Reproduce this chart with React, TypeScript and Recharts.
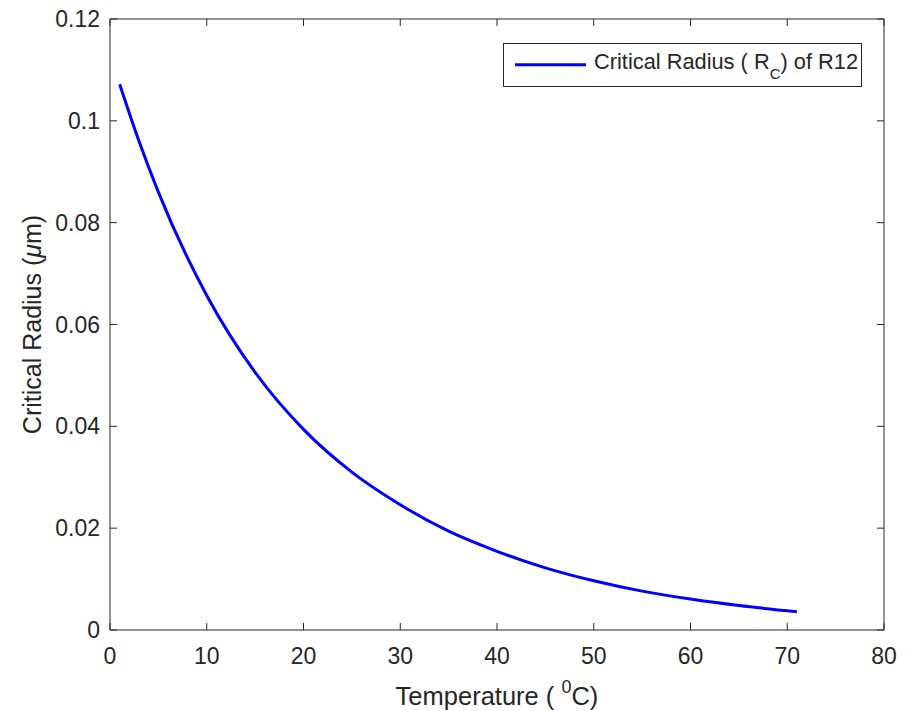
import React from 'react';
import { LineChart, Line, XAxis, YAxis, Legend } from 'recharts';

// Temperature (°C) and critical radius (µm)
const temperature = [1, 3, 5, 10, 15, 20, 25, 30, 35, 40, 45, 50, 55, 60, 65, 71];
const criticalRadius = [
  0.1072, 0.096, 0.086, 0.0657, 0.0506, 0.0394, 0.031, 0.0246, 0.0194, 0.01545,
  0.0122, 0.00966, 0.00763, 0.00607, 0.0048, 0.0036,
];
const xTicks = [0, 10, 20, 30, 40, 50, 60, 70, 80];
const yTicks = [0, 0.02, 0.04, 0.06, 0.08, 0.1, 0.12];
const yTickLabels = ['0', '0.02', '0.04', '0.06', '0.08', '0.1', '0.12'];

const data = temperature.map((t, i) => ({ t, r: criticalRadius[i] }));

const FONT = '"Liberation Sans", Arial, Helvetica, sans-serif';
const INK = '#262626';
const BLUE = '#0000ff';
const TICK_LEN = 7;

const BottomTick = (p: any) => (
  <g>
    <line x1={p.x} x2={p.x} y1={p.y} y2={p.y - TICK_LEN} stroke={INK} strokeWidth={1} />
    <text x={p.x} y={p.y + 18} dy="0.71em" textAnchor="middle" fontSize={23} fontFamily={FONT} fill={INK}>
      {String(p.payload.value)}
    </text>
  </g>
);

const LeftTick = (p: any) => {
  const v = p.payload.value;
  const label = yTickLabels[yTicks.indexOf(v)] ?? String(v);
  return (
    <g>
      <line x1={p.x} x2={p.x + TICK_LEN} y1={p.y} y2={p.y} stroke={INK} strokeWidth={1} />
      <text x={p.x - 10} y={p.y} dy="0.355em" textAnchor="end" fontSize={23} fontFamily={FONT} fill={INK}>
        {label}
      </text>
    </g>
  );
};

const TopTick = (p: any) => (
  <line x1={p.x} x2={p.x} y1={p.y} y2={p.y + TICK_LEN} stroke={INK} strokeWidth={1} />
);

const RightTick = (p: any) => (
  <line x1={p.x} x2={p.x - TICK_LEN} y1={p.y} y2={p.y} stroke={INK} strokeWidth={1} />
);

const XTitle = (props: any) => {
  const vb = props.viewBox || {};
  const cx = vb.x + vb.width / 2;
  const y = vb.y + 74.5;
  return (
    <text x={cx} y={y} textAnchor="middle" fontSize={25.5} fontFamily={FONT} fill={INK}>
      Temperature (
      <tspan> </tspan>
      <tspan fontSize={18} dy={-12}>0</tspan>
      <tspan dy={12}>C)</tspan>
    </text>
  );
};

const YTitle = (props: any) => {
  const vb = props.viewBox || {};
  const x = vb.x + 41;
  const cy = vb.y + vb.height / 2;
  return (
    <text
      x={x}
      y={cy}
      textAnchor="middle"
      fontSize={25}
      fontFamily={FONT}
      fill={INK}
      transform={`rotate(-90, ${x}, ${cy})`}
    >
      Critical Radius (<tspan fontStyle="italic">μ</tspan>m)
    </text>
  );
};

const LegendBox = () => (
  <svg width={360} height={45} style={{ display: 'block' }}>
    <rect x={0.5} y={0.5} width={358} height={43} fill="#fff" stroke={INK} strokeWidth={1} />
    <line x1={12} x2={83} y1={21.7} y2={21.7} stroke={BLUE} strokeWidth={3} />
    <text x={91} y={25.5} fontSize={21.8} fontFamily={FONT} fill={INK}>
      Critical Radius ( R<tspan fontSize={15} dy={10}>C</tspan>
      <tspan dy={-10}>) of R12</tspan>
    </text>
  </svg>
);

export default function App() {
  return (
    <div style={{ position: 'absolute', left: 0, top: 0, width: 915, height: 711, background: '#fff' }}>
      <LineChart
        width={915}
        height={711}
        data={data}
        margin={{ top: 18, right: 30, bottom: 0, left: 0 }}
      >
        <XAxis
          dataKey="t"
          type="number"
          domain={[0, 80]}
          ticks={xTicks}
          height={81}
          tickSize={0}
          tickMargin={0}
          axisLine={{ stroke: INK, strokeWidth: 1 }}
          tickLine={false}
          tick={(p: any) => <BottomTick {...p} />}
          interval={0}
          allowDataOverflow
          label={<XTitle />}
        />
        <XAxis
          xAxisId="top"
          orientation="top"
          dataKey="t"
          type="number"
          domain={[0, 80]}
          ticks={xTicks}
          height={1}
          tickSize={0}
          tickMargin={0}
          axisLine={{ stroke: INK, strokeWidth: 1 }}
          tickLine={false}
          tick={(p: any) => <TopTick {...p} />}
          interval={0}
          allowDataOverflow
        />
        <YAxis
          type="number"
          domain={[0, 0.12]}
          ticks={yTicks}
          width={110}
          tickSize={0}
          tickMargin={0}
          axisLine={{ stroke: INK, strokeWidth: 1 }}
          tickLine={false}
          tick={(p: any) => <LeftTick {...p} />}
          interval={0}
          allowDataOverflow
          label={<YTitle />}
        />
        <YAxis
          yAxisId="right"
          orientation="right"
          type="number"
          domain={[0, 0.12]}
          ticks={yTicks}
          width={1}
          tickSize={0}
          tickMargin={0}
          axisLine={{ stroke: INK, strokeWidth: 1 }}
          tickLine={false}
          tick={(p: any) => <RightTick {...p} />}
          interval={0}
          allowDataOverflow
        />
        <Legend
          layout="vertical"
          align="center"
          verticalAlign="middle"
          content={<LegendBox />}
          wrapperStyle={{ position: 'absolute', left: 503, top: 43, width: 360, height: 45 }}
        />
        <Line
          type="monotone"
          dataKey="r"
          name="Critical Radius (RC) of R12"
          stroke={BLUE}
          strokeWidth={3}
          dot={false}
          activeDot={false}
          isAnimationActive={false}
        />
      </LineChart>
    </div>
  );
}
